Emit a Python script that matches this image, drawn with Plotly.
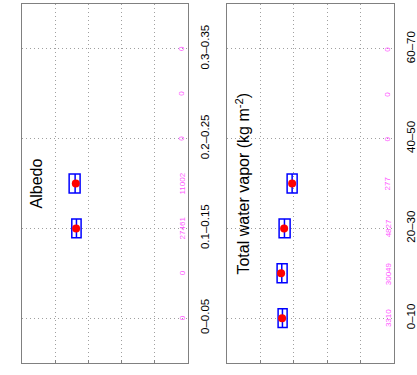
import plotly.graph_objects as go

# ---------------- data ----------------
albedo_cats = ["0–0.05", "0.05–0.1", "0.1–0.15", "0.15–0.2", "0.2–0.25", "0.25–0.3", "0.3–0.35"]
albedo_counts = [0, 0, 27461, 11002, 0, 0, 0]
albedo_box_idx = [2, 3]
albedo_q1 = [3.22, 3.25]
albedo_med = [3.36, 3.40]
albedo_q3 = [3.50, 3.58]
albedo_mean = [3.37, 3.38]

wv_cats = ["0–10", "10–20", "20–30", "30–40", "40–50", "50–60", "60–70"]
wv_counts = [3310, 30049, 4827, 277, 0, 0, 0]
wv_box_idx = [0, 1, 2, 3]
wv_q1 = [3.20, 3.20, 3.11, 2.90]
wv_med = [3.34, 3.36, 3.28, 3.05]
wv_q3 = [3.47, 3.50, 3.44, 3.20]
wv_mean = [3.35, 3.38, 3.29, 3.05]

titles = ["Albedo", "Total water vapor (kg m<sup>-2</sup>)"]

# ---------------- figure ----------------
W, H = 417, 375
FONT = "Liberation Sans, Arial, sans-serif"
BLUE = "#0000ff"
RED = "#ff0000"
MAG = "#ff55ff"
GRID = "#a0a0a0"
FRAME = "#808080"
DOT = "1px,3px"

fig = go.Figure()

panels = [
    dict(cats=albedo_cats, counts=albedo_counts, idx=albedo_box_idx, q1=albedo_q1,
         med=albedo_med, q3=albedo_q3, mean=albedo_mean, xa="x", ya="y",
         dom=[22 / W, 188 / W]),
    dict(cats=wv_cats, counts=wv_counts, idx=wv_box_idx, q1=wv_q1,
         med=wv_med, q3=wv_q3, mean=wv_mean, xa="x2", ya="y2",
         dom=[227 / W, 394 / W]),
]

XR = [5, 0]          # reversed value axis
YR = [-1, 7]
ydom = [1 - 363 / H, 1 - 4 / H]

annotations = []
for k, p in enumerate(panels):
    fig.add_trace(go.Box(
        y=p["idx"], q1=p["q1"], median=p["med"], q3=p["q3"],
        lowerfence=p["q1"], upperfence=p["q3"],
        orientation="h", width=0.42, whiskerwidth=1,
        line=dict(color=BLUE, width=1.5), fillcolor="rgba(0,0,0,0)",
        boxpoints=False, showlegend=False, hoverinfo="skip",
        xaxis=p["xa"], yaxis=p["ya"]))
    fig.add_trace(go.Scatter(
        x=p["mean"], y=p["idx"], mode="markers",
        marker=dict(color=RED, size=8, line=dict(width=0)),
        showlegend=False, hoverinfo="skip",
        xaxis=p["xa"], yaxis=p["ya"]))
    # counts
    for i, c in enumerate(p["counts"]):
        annotations.append(dict(
            x=0.18, y=i, xref=p["xa"], yref=p["ya"], text=str(c),
            showarrow=False, textangle=-90, xanchor="center", yanchor="middle",
            font=dict(family=FONT, size=8, color=MAG)))
    # title
    annotations.append(dict(
        x=4.55, y=3, xref=p["xa"], yref=p["ya"], text=titles[k],
        showarrow=False, textangle=-90, xanchor="center", yanchor="middle",
        font=dict(family=FONT, size=16, color="black")))

    xkey = "xaxis" if k == 0 else "xaxis2"
    ykey = "yaxis" if k == 0 else "yaxis2"
    fig.update_layout(**{
        xkey: dict(domain=p["dom"], range=XR, anchor=p["ya"], automargin=False,
                   tickvals=[1, 2, 3, 4], showticklabels=False,
                   ticks="inside", ticklen=3, tickcolor=FRAME,
                   showgrid=True, gridcolor=GRID, griddash=DOT, gridwidth=1,
                   showline=True, linecolor=FRAME, linewidth=1, mirror=True,
                   zeroline=False, fixedrange=True),
        ykey: dict(domain=ydom, range=YR, anchor=p["xa"], side="right", automargin=False,
                   tickvals=[0, 2, 4, 6], ticktext=[p["cats"][j] for j in [0, 2, 4, 6]],
                   tickangle=-90, ticks="", ticklabelstandoff=6,
                   tickfont=dict(family=FONT, size=11.5, color="black"),
                   showgrid=True, gridcolor=GRID, griddash=DOT, gridwidth=1,
                   showline=True, linecolor=FRAME, linewidth=1, mirror=True,
                   zeroline=False, fixedrange=True),
    })

fig.update_layout(
    width=W, height=H,
    margin=dict(l=0, r=0, t=0, b=0),
    paper_bgcolor="white", plot_bgcolor="white",
    annotations=annotations,
    font=dict(family=FONT),
)

fig.write_html("out.html", config={"displayModeBar": False},
               post_script="document.body.style.margin='0';document.body.style.overflow='hidden';")
